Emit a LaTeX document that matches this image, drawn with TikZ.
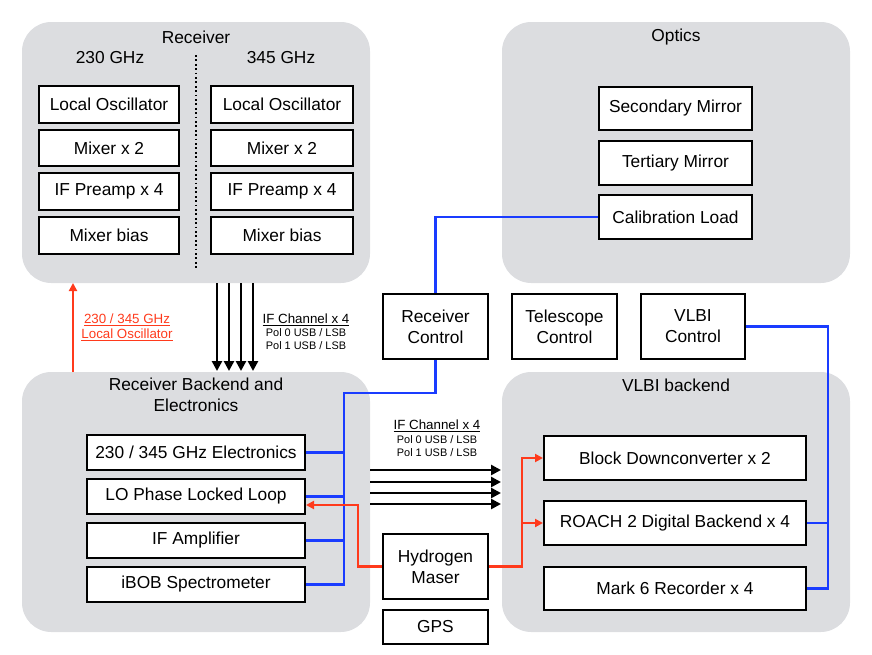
\documentclass[tikz,border=0pt]{standalone}
\usepackage{fontspec}
\setmainfont{Liberation Sans}
\usetikzlibrary{arrows.meta,calc}
\definecolor{panelgray}{HTML}{DCDDE0}
\definecolor{lblue}{HTML}{1A3CFF}
\definecolor{lred}{HTML}{FF3A1C}
\newcommand\mybox[6]{%
  \pgfmathsetmacro\mybw{(#4-#2)*0.75}%
  \pgfmathsetmacro\mybh{(#5-#3)*0.75}%
  \node[box,minimum width=\mybw pt,minimum height=\mybh pt] (#1) at ({(#2+#4)/2},{(#3+#5)/2}) {#6};}
\begin{document}
\begin{tikzpicture}[x=0.75pt,y=-0.75pt,
  box/.style={draw,line width=1.5pt,fill=white,inner sep=0pt,align=center,font=\fontsize{13}{15.75}\selectfont},
  panel/.style={fill=panelgray,rounded corners=22pt},
  ttl/.style={align=center,inner sep=0pt,font=\fontsize{13}{15.75}\selectfont},
  lblbig/.style={inner sep=0pt,font=\fontsize{10}{12}\selectfont},
  lblsmall/.style={inner sep=0pt,font=\fontsize{8.2}{10}\selectfont},
  blk/.style={line width=2pt,-{Triangle[length=7.5pt,width=7.5pt]}},
  bl/.style={draw=lblue,line width=1.6pt},
  rd/.style={draw=lred,line width=1.6pt},
  rda/.style={rd,-{Triangle[length=6pt,width=6pt]}}]
\useasboundingbox (0,0) rectangle (872,654);
% panels
\fill[panel] (22,22) rectangle (370,283);
\fill[panel] (502,22) rectangle (850,283);
\fill[panel] (22,372) rectangle (370,632);
\fill[panel] (502,372) rectangle (850,632);
% titles
\node[ttl] (tRec) at (196,37) {Receiver};
\node[ttl] (t230) at (110,58) {230 GHz};
\node[ttl] (t345) at (281,58) {345 GHz};
\node[ttl] (tOpt) at (676,37) {Optics};
\node[ttl] (tRB) at (196,395) {Receiver Backend and\\Electronics};
\node[ttl] (tVB) at (676,385) {VLBI backend};
\draw[line width=1.3pt,dotted] (196,55) -- (196,268);
% receiver boxes
\mybox{lo1}{39}{86}{179}{123}{Local Oscillator}
\mybox{mx1}{39}{130}{179}{166}{Mixer x 2}
\mybox{if1}{39}{173}{179}{210}{IF Preamp x 4}
\mybox{mb1}{39}{217}{179}{254}{Mixer bias}
\mybox{lo2}{211}{86}{353}{123}{Local Oscillator}
\mybox{mx2}{211}{130}{353}{166}{Mixer x 2}
\mybox{if2}{211}{173}{353}{210}{IF Preamp x 4}
\mybox{mb2}{211}{217}{353}{254}{Mixer bias}
% optics boxes
\mybox{sec}{599}{87}{752}{130}{Secondary Mirror}
\mybox{ter}{599}{141}{752}{185}{Tertiary Mirror}
\mybox{cal}{599}{195}{752}{239}{Calibration Load}
% control boxes
\mybox{rc}{383}{294}{488}{359}{Receiver\\Control}
\mybox{tc}{512}{294}{617}{359}{Telescope\\Control}
\mybox{vc}{641}{294}{745}{359}{VLBI\\Control}
% receiver backend boxes
\mybox{el}{87}{435}{305}{470}{230 / 345 GHz Electronics}
\mybox{pll}{87}{479}{305}{514}{LO Phase Locked Loop}
\mybox{ifa}{87}{523}{305}{558}{IF Amplifier}
\mybox{ibob}{87}{567}{305}{602}{iBOB Spectrometer}
% maser, gps
\mybox{hm}{383}{534}{488}{599}{Hydrogen\\Maser}
\mybox{gps}{383}{610}{488}{644}{GPS}
% vlbi backend boxes
\mybox{bdc}{544}{436}{806}{480}{Block Downconverter x 2}
\mybox{roach}{544}{501}{806}{545}{ROACH 2 Digital Backend x 4}
\mybox{m6}{544}{567}{806}{610}{Mark 6 Recorder x 4}
% IF channel arrows down
\foreach \xx/\nm in {217/a,229/b,241/c,253/d}{
  \coordinate (s\nm) at (\xx,283);
  \coordinate (e\nm) at (\xx,371);
  \draw[blk] (s\nm) -- (e\nm);
}
\node[lblbig] (ifl1) at (306,320) {\underline{IF Channel x 4}};
\node[lblsmall] (p01) at (306,333) {Pol 0 USB / LSB};
\node[lblsmall] (p11) at (306,346) {Pol 1 USB / LSB};
% LO red arrow
\coordinate (los) at (73,372);
\coordinate (loe) at (73,283);
\draw[rda] (los) -- (loe);
\node[lblbig,text=lred] (lol1) at (127,320) {\underline{230 / 345 GHz}};
\node[lblbig,text=lred] (lol2) at (127,335) {\underline{Local Oscillator}};
% IF channel arrows right
\foreach \yy/\nm in {470/a,482/b,493/c,504/d}{
  \coordinate (hs\nm) at (370,\yy);
  \coordinate (he\nm) at (501,\yy);
  \draw[blk] (hs\nm) -- (he\nm);
}
\node[lblbig] (ifl2) at (437,426) {\underline{IF Channel x 4}};
\node[lblsmall] (p02) at (437,440) {Pol 0 USB / LSB};
\node[lblsmall] (p12) at (437,453) {Pol 1 USB / LSB};
% blue control lines
\draw[bl] (rc.north) |- (cal.west);
\coordinate (b1) at (344,393);
\draw[bl] (rc.south) |- (b1) |- (ibob.east);
\draw[bl] (el.east) -- (el.east -| b1);
\draw[bl] (pll.east) -- (pll.east -| b1);
\draw[bl] (ifa.east) -- (ifa.east -| b1);
\coordinate (vx) at (828,326);
\draw[bl] (vc.east) -| (vx |- m6.east) -- (m6.east);
\draw[bl] (roach.east) -- (roach.east -| vx);
% red maser lines
\coordinate (r1) at (358,505);
\draw[rda] (hm.west) -| (r1) -- ($(pll.east)+(0,8.5)$);
\coordinate (rx) at (522,566);
\draw[rda] (hm.east) -| (rx |- bdc.west) -- (bdc.west);
\draw[rda] (rx |- roach.west) -- (roach.west);
\end{tikzpicture}
\end{document}
